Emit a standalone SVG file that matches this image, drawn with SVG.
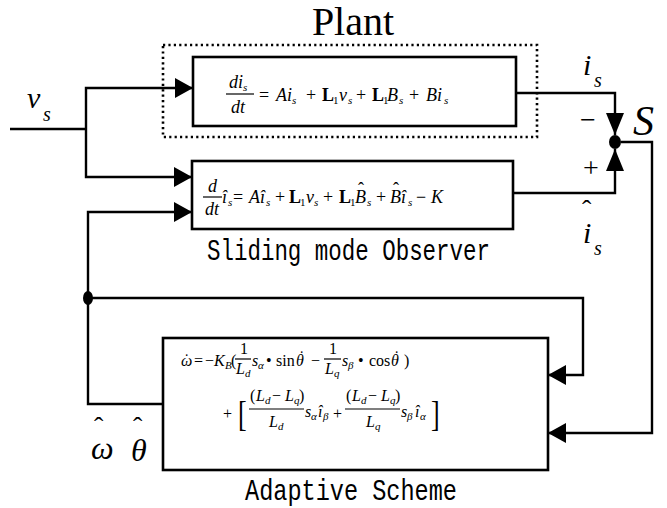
<svg xmlns="http://www.w3.org/2000/svg" width="667" height="508" viewBox="0 0 667 508">
<style>
.box{fill:#fff;stroke:#000;stroke-width:2.6}
.dot{fill:none;stroke:#000;stroke-width:2.6;stroke-dasharray:2.2 3.2}
.ln{fill:none;stroke:#000;stroke-width:2.4}
.fr{stroke:#000;stroke-width:1.2}
.eq{font-family:"Liberation Serif","DejaVu Serif",serif;font-size:18px;font-style:italic;fill:#000}
.eq2{font-family:"Liberation Serif","DejaVu Serif",serif;font-size:16px;font-style:italic;fill:#000}
.up{font-style:normal}
.bf{font-weight:bold;font-style:normal}
.sb{font-size:11px}
.lab{font-family:"Liberation Serif","DejaVu Serif",serif;font-style:italic;fill:#000}
.sym{font-family:"Liberation Serif","DejaVu Serif",serif;fill:#000}
.cap{font-family:"Liberation Mono","DejaVu Sans Mono",monospace;font-size:30px;fill:#000}
</style>
<defs>
<marker id="arr" markerUnits="userSpaceOnUse" markerWidth="18" markerHeight="20" refX="18" refY="10" orient="auto">
<path d="M0,0 L18,10 L0,20 z" fill="#000"/>
</marker>
<marker id="arrS" markerUnits="userSpaceOnUse" markerWidth="22" markerHeight="18" refX="22" refY="9" orient="auto">
<path d="M0,0 L22,9 L0,18 z" fill="#000"/>
</marker>
</defs>

<text x="353" y="35" text-anchor="middle" class="sym" font-size="40">Plant</text>

<g id="plant">
<rect class="dot" x="163" y="45" width="374" height="92"/>
<rect class="box" x="193" y="57" width="323" height="69"/>
<line class="fr" x1="226" y1="94" x2="254" y2="94"/>
<text class="eq">
<tspan x="229" y="88">di</tspan><tspan x="243" y="91" class="sb">s</tspan>
<tspan x="231" y="113">dt</tspan>
<tspan x="259" y="101" class="up">=</tspan>
<tspan x="276" y="101">Ai</tspan><tspan x="292" y="104" class="sb">s</tspan>
<tspan x="306" y="101" class="up">+</tspan>
<tspan x="322" y="101" class="bf">L</tspan><tspan x="333" y="104" class="sb up">1</tspan>
<tspan x="339" y="101">v</tspan><tspan x="348" y="104" class="sb">s</tspan>
<tspan x="356" y="101" class="up">+</tspan>
<tspan x="372" y="101" class="bf">L</tspan><tspan x="383" y="104" class="sb up">1</tspan>
<tspan x="387" y="101">B</tspan><tspan x="399" y="104" class="sb">s</tspan>
<tspan x="409" y="101" class="up">+</tspan>
<tspan x="426" y="101">Bi</tspan><tspan x="444" y="104" class="sb">s</tspan>
</text>
</g>

<g id="observer">
<rect class="box" x="192" y="161" width="321" height="68"/>
<line class="fr" x1="203" y1="197" x2="222" y2="197"/>
<text class="eq">
<tspan x="208" y="192">d</tspan>
<tspan x="205" y="215">dt</tspan>
<tspan x="222" y="203">î</tspan><tspan x="228" y="206" class="sb">s</tspan>
<tspan x="233" y="203" class="up">=</tspan>
<tspan x="249" y="203">Aî</tspan><tspan x="266" y="206" class="sb">s</tspan>
<tspan x="275" y="203" class="up">+</tspan>
<tspan x="289" y="203" class="bf">L</tspan><tspan x="300" y="206" class="sb up">1</tspan>
<tspan x="306" y="203">v</tspan><tspan x="314" y="206" class="sb">s</tspan>
<tspan x="323" y="203" class="up">+</tspan>
<tspan x="339" y="203" class="bf">L</tspan><tspan x="350" y="206" class="sb up">1</tspan>
<tspan x="355" y="203">B</tspan><tspan x="358" y="195" class="up">ˆ</tspan><tspan x="367" y="206" class="sb">s</tspan>
<tspan x="376" y="203" class="up">+</tspan>
<tspan x="390" y="203">Bî</tspan><tspan x="393" y="195" class="up">ˆ</tspan><tspan x="408" y="206" class="sb">s</tspan>
<tspan x="416" y="203" class="up">−</tspan>
<tspan x="431" y="203">K</tspan>
</text>
<text class="cap" x="207" y="260" textLength="283" lengthAdjust="spacingAndGlyphs">Sliding mode Observer</text>
</g>

<g id="adaptive">
<rect class="box" x="163" y="338" width="385" height="132"/>
<line class="fr" x1="235" y1="359" x2="251" y2="359"/>
<line class="fr" x1="324" y1="359" x2="341" y2="359"/>
<line class="fr" x1="249" y1="409" x2="304" y2="409"/>
<line class="fr" x1="345" y1="409" x2="400" y2="409"/>
<text class="eq2">
<tspan x="181" y="366">ω</tspan><tspan x="184" y="365" class="up">˙</tspan>
<tspan x="194" y="366" class="up">=</tspan>
<tspan x="205" y="366" class="up">−</tspan>
<tspan x="214" y="366">K</tspan><tspan x="225" y="369" class="sb">B</tspan>
<tspan x="231" y="366" class="up">(</tspan>
<tspan x="240" y="354" class="up">1</tspan>
<tspan x="236" y="374">L</tspan><tspan x="245" y="377" class="sb">d</tspan>
<tspan x="252" y="366">s</tspan><tspan x="258" y="369" class="sb">α</tspan>
<tspan x="266" y="366" class="up">•</tspan>
<tspan x="276" y="366" class="up">sin</tspan><tspan x="296" y="366">θ</tspan><tspan x="299" y="362" class="up">˙</tspan>
<tspan x="311" y="366" class="up">−</tspan>
<tspan x="329" y="354" class="up">1</tspan>
<tspan x="325" y="374">L</tspan><tspan x="334" y="377" class="sb">q</tspan>
<tspan x="342" y="366">s</tspan><tspan x="348" y="369" class="sb">β</tspan>
<tspan x="358" y="366" class="up">•</tspan>
<tspan x="369" y="366" class="up">cos</tspan><tspan x="391" y="366">θ</tspan><tspan x="394" y="362" class="up">˙</tspan>
<tspan x="404" y="366" class="up">)</tspan>
<tspan x="223" y="419" class="up">+</tspan>
<tspan x="250" y="401" class="up">(</tspan><tspan x="256" y="401">L</tspan><tspan x="265" y="404" class="sb">d</tspan>
<tspan x="272" y="401" class="up">−</tspan><tspan x="285" y="401">L</tspan><tspan x="294" y="404" class="sb">q</tspan><tspan x="299" y="401" class="up">)</tspan>
<tspan x="269" y="427">L</tspan><tspan x="278" y="430" class="sb">d</tspan>
<tspan x="305" y="417">s</tspan><tspan x="311" y="420" class="sb">α</tspan>
<tspan x="318" y="417">î</tspan><tspan x="323" y="420" class="sb">β</tspan>
<tspan x="333" y="419" class="up">+</tspan>
<tspan x="346" y="401" class="up">(</tspan><tspan x="352" y="401">L</tspan><tspan x="361" y="404" class="sb">d</tspan>
<tspan x="368" y="401" class="up">−</tspan><tspan x="381" y="401">L</tspan><tspan x="390" y="404" class="sb">q</tspan><tspan x="395" y="401" class="up">)</tspan>
<tspan x="366" y="427">L</tspan><tspan x="375" y="430" class="sb">q</tspan>
<tspan x="401" y="417">s</tspan><tspan x="407" y="420" class="sb">β</tspan>
<tspan x="415" y="417">î</tspan><tspan x="420" y="420" class="sb">α</tspan>
</text>
<text class="sym" font-size="26" transform="translate(238,426) scale(1,1.4)">[</text>
<text class="sym" font-size="26" transform="translate(431,426) scale(1,1.4)">]</text>
<text class="cap" x="245" y="500" textLength="212" lengthAdjust="spacingAndGlyphs">Adaptive Scheme</text>
</g>

<g id="sum">
<ellipse cx="615" cy="142" rx="6" ry="7" fill="#000"/>
<text class="sym" x="580" y="129" font-size="28">−</text>
<text class="sym" x="583" y="177" font-size="28">+</text>
</g>

<g id="labels">
<text class="lab" x="27" y="108" font-size="30">v</text>
<text class="lab" x="43" y="121" font-size="20">s</text>
<text class="lab" x="583" y="75" font-size="30">i</text>
<text class="lab" x="594" y="87" font-size="20">s</text>
<text class="lab" x="633" y="135" font-size="42">S</text>
<text class="sym" x="582" y="219" font-size="28">ˆ</text>
<text class="lab" x="583" y="243" font-size="30">i</text>
<text class="lab" x="594" y="255" font-size="20">s</text>
<text class="lab" x="91" y="459" font-size="32">ω</text>
<text class="sym" x="94" y="436" font-size="28">ˆ</text>
<text class="lab" x="131" y="461" font-size="32">θ</text>
<text class="sym" x="133" y="436" font-size="28">ˆ</text>
</g>

<g id="connectors">
<polyline class="ln" points="10,129 86,129"/>
<polyline class="ln" points="86,129 86,88 193,88" marker-end="url(#arr)"/>
<polyline class="ln" points="86,129 86,177 192,177" marker-end="url(#arr)"/>
<polyline class="ln" points="163,404 88,404 88,212 192,212" marker-end="url(#arr)"/>
<polyline class="ln" points="88,298 583,298 583,375 548,375" marker-end="url(#arr)"/>
<ellipse cx="88" cy="298" rx="5" ry="7" fill="#000"/>
<polyline class="ln" points="516,93 615,93 615,135" marker-end="url(#arrS)"/>
<polyline class="ln" points="513,193 615,193 615,149" marker-end="url(#arrS)"/>
<polyline class="ln" points="621,142 652,142 652,433 548,433" marker-end="url(#arr)"/>
</g>
</svg>
